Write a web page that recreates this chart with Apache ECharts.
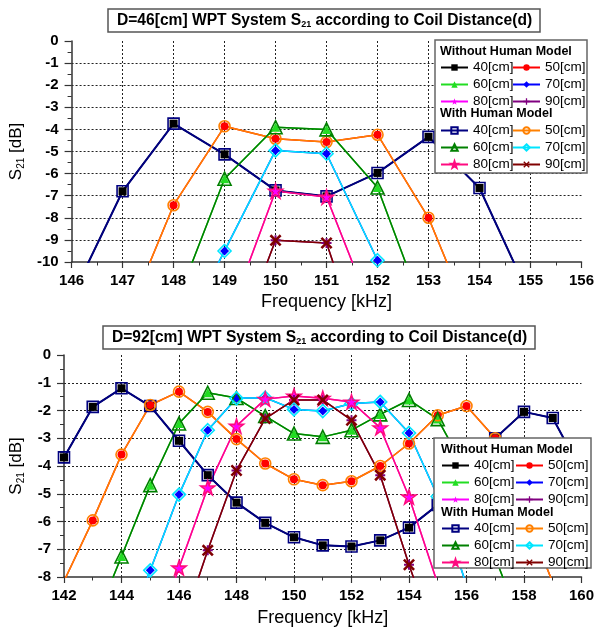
<!DOCTYPE html>
<html><head><meta charset="utf-8">
<script src="https://cdn.jsdelivr.net/npm/echarts@6/dist/echarts.min.js"></script>
<style>html,body{margin:0;padding:0;background:#fff}#c{width:597px;height:630px}</style>
</head><body><div id="c"></div>
<script>
// ---- D = 46 cm ----
const FREQ_46 = [146,147,148,149,150,151,152,153,154,155,156];
const D46_40 = [-11.6,-6.8,-3.74,-5.13,-6.76,-7.03,-5.97,-4.34,-6.65,-11.65,null];
const D46_50 = [null,-13.0,-7.43,-3.86,-4.42,-4.57,-4.24,-8.0,-13.6,null,null];
const D46_60 = [null,null,-12.2,-6.23,-3.9,-4.0,-6.63,-12.8,null,null,null];
const D46_70 = [null,null,-14.0,-9.5,-4.95,-5.1,-9.92,-15.0,null,null,null];
const D46_80 = [null,null,null,-13.0,-6.79,-7.06,-12.9,null,null,null,null];
const D46_90 = [null,null,null,-15.1,-9.02,-9.14,-16.0,null,null,null,null];
// ---- D = 92 cm ----
const FREQ_92 = [142,143,144,145,146,147,148,149,150,151,152,153,154,155,156,157,158,159,160];
const D92_40 = [-3.69,-1.87,-1.2,-1.84,-3.09,-4.33,-5.32,-6.05,-6.57,-6.86,-6.9,-6.68,-6.22,-5.4,-4.2,-3.0,-2.05,-2.27,-4.2];
const D92_50 = [-8.15,-5.96,-3.59,-1.8,-1.32,-2.05,-3.03,-3.91,-4.48,-4.69,-4.55,-4.0,-3.19,-2.17,-1.84,-3.0,-5.6,-8.2,null];
const D92_60 = [null,-9.8,-7.26,-4.69,-2.47,-1.36,-1.55,-2.2,-2.83,-2.95,-2.71,-2.14,-1.62,-2.31,-4.2,-7.3,-10.0,null,null];
const D92_70 = [null,null,-10.5,-7.76,-5.03,-2.71,-1.56,-1.54,-1.96,-2.02,-1.75,-1.69,-2.81,-5.1,-8.3,null,null,null,null];
const D92_80 = [null,null,null,-10.6,-7.67,-4.78,-2.56,-1.59,-1.48,-1.56,-1.69,-2.62,-5.11,-8.25,null,null,null,null,null];
const D92_90 = [null,null,null,null,-10.1,-7.04,-4.16,-2.29,-1.62,-1.62,-2.35,-4.33,-7.56,-10.5,null,null,null,null,null];

const X46_TICKS = {min:146, max:156, interval:1};
const Y46_TICKS = {min:-10, max:0, interval:1};
const X92_TICKS = {min:142, max:160, interval:2};
const Y92_TICKS = {min:-8, max:0, interval:1};

const DIST = ['40','50','60','70','80','90'];
const TITLES = ['D=46[cm] WPT System S{sub|21} according to Coil Distance(d)',
                'D=92[cm] WPT System S{sub|21} according to Coil Distance(d)'];
const HDR_WO = 'Without Human Model';
const HDR_W = 'With Human Model';

const FF = 'Liberation Sans, Arial, sans-serif';
const STAR = 'path://M50,0 L61.8,35.3 L98.9,35.3 L69,57.3 L80.3,92.7 L50,70.8 L19.7,92.7 L31,57.3 L1.1,35.3 L38.2,35.3 Z';
const PLUS = 'path://M40,0 H60 V40 H100 V60 H60 V100 H40 V60 H0 V40 H40 Z';
const XS = 'path://M15,0 L50,35 L85,0 L100,15 L65,50 L100,85 L85,100 L50,65 L15,100 L0,85 L35,50 L0,15 Z';
const WO_COLORS = ['#000000','#ff0000','#22dd22','#0000ff','#ff00ff','#800080'];
const W_COLORS = ['#000080','#ff8000','#008000','#00e5ff','#ff0a80','#800000'];
const WO_SYM = ['rect','circle','triangle','diamond',STAR,PLUS];
const W_SYM = ['rect','circle','triangle','diamond',STAR,XS];
const WO_SIZE = [8,8,9,9,11,10];
const W_SIZE = [11,11,13,13,14,12];

const sets = [
  {tag:'46', freq:FREQ_46, vals:[D46_40,D46_50,D46_60,D46_70,D46_80,D46_90]},
  {tag:'92', freq:FREQ_92, vals:[D92_40,D92_50,D92_60,D92_70,D92_80,D92_90]}
];
function pts(freq, v){ const out=[]; freq.forEach((f,i)=>{ if(v[i]!==null) out.push([f,v[i]]); }); return out; }

const series = [];
sets.forEach((s,k)=>{
  DIST.forEach((d,i)=>{
    series.push({type:'line', name:'wo'+s.tag+'_'+d, xAxisIndex:k, yAxisIndex:k,
      data:pts(s.freq, s.vals[i]), symbol:WO_SYM[i], symbolSize:WO_SIZE[i],
      itemStyle:{color:WO_COLORS[i]}, lineStyle:{color:WO_COLORS[i], width:1.5},
      clip:true, z:2, animation:false});
  });
});
sets.forEach((s,k)=>{
  DIST.forEach((d,i)=>{
    series.push({type:'line', name:'w'+s.tag+'_'+d, xAxisIndex:k, yAxisIndex:k,
      data:pts(s.freq, s.vals[i]), symbol:W_SYM[i], symbolSize:W_SIZE[i],
      itemStyle: i===5 ? {color:W_COLORS[i]} : {color:'transparent', borderColor:W_COLORS[i], borderWidth:1.6},
      lineStyle:{color:W_COLORS[i], width: i===0?2:1.5},
      clip:true, z:2, animation:false});
  });
});

function xAxis(t, k){
  return {type:'value', gridIndex:k, min:t.min, max:t.max, interval:t.interval,
    name:'Frequency [kHz]', nameLocation:'middle', nameGap: k===0?31:32,
    nameTextStyle:{fontSize:18, fontFamily:FF, color:'#000'},
    axisLine:{show:true, onZero:false, lineStyle:{color:'#333', width:1.5}},
    axisTick:{show:true, length:6, lineStyle:{color:'#333', width:1.2}},
    minorTick:{show:true, splitNumber:2, length:3.5, lineStyle:{color:'#333', width:1}},
    axisLabel:{fontSize:15, fontWeight:'bold', fontFamily:FF, color:'#000', margin:11},
    splitLine:{show:true, showMinLine:false, showMaxLine:false, lineStyle:{color:'#222', type:[2,2], width:1}}};
}
function yAxis(t, k){
  return {type:'value', gridIndex:k, min:t.min, max:t.max, interval:t.interval,
    name:'S{sub|21} [dB]', nameLocation:'middle', nameGap:38,
    nameTextStyle:{fontSize:17, fontFamily:FF, color:'#000', rich:{sub:{fontSize:10, fontFamily:FF, color:'#000', padding:[9,0,0,0]}}},
    axisLine:{show:true, onZero:false, lineStyle:{color:'#333', width:1.5}},
    axisTick:{show:true, length:7, lineStyle:{color:'#333', width:1.2}},
    minorTick:{show:true, splitNumber:2, length:4, lineStyle:{color:'#333', width:1}},
    axisLabel:{fontSize:15, fontWeight:'bold', fontFamily:FF, color:'#000', margin:13},
    splitLine:{show:true, showMinLine:false, showMaxLine:false, lineStyle:{color:'#222', type:[2,2], width:1}}};
}
function title(text, left, top){
  return {text:text, left:left, top:top, borderColor:'#555', borderWidth:1.5, padding:[4,8,3,9], backgroundColor:'#fff',
    textStyle:{fontSize:15.6, fontWeight:'bold', fontFamily:FF, color:'#000',
      rich:{sub:{fontSize:9, fontWeight:'bold', fontFamily:FF, color:'#000', padding:[8,0,0,0]}}}};
}
function legend(names, left, top){
  return {data:names, orient:'vertical', left:left, top:top, itemWidth:27, itemHeight:8, itemGap:3,
    selectedMode:false, padding:0, formatter:n=>n.split('_')[1]+'[cm]',
    textStyle:{fontSize:13.5, fontFamily:FF, color:'#000'}};
}
const L = [
  {box:[435,40,152,133], hx:440, h1:52, h2:114, c1:440, c2:512, r1:60.5, r2:123.5},
  {box:[434,438,157,130], hx:441, h1:450, h2:513, c1:441, c2:515, r1:458.5, r2:521.5}
];
const legends = [];
const graphics = [];
sets.forEach((s,k)=>{
  const l = L[k];
  legends.push(legend(['40','60','80'].map(d=>'wo'+s.tag+'_'+d), l.c1, l.r1));
  legends.push(legend(['50','70','90'].map(d=>'wo'+s.tag+'_'+d), l.c2, l.r1));
  legends.push(legend(['40','60','80'].map(d=>'w'+s.tag+'_'+d), l.c1, l.r2));
  legends.push(legend(['50','70','90'].map(d=>'w'+s.tag+'_'+d), l.c2, l.r2));
  graphics.push({type:'rect', z:3, shape:{x:l.box[0], y:l.box[1], width:l.box[2], height:l.box[3]},
    style:{fill:'#fff', stroke:'#666', lineWidth:1.5}});
  graphics.push({type:'text', z:5, x:l.hx, y:l.h1, style:{text:HDR_WO, font:'bold 12.5px '+FF, fill:'#000', verticalAlign:'middle'}});
  graphics.push({type:'text', z:5, x:l.hx, y:l.h2, style:{text:HDR_W, font:'bold 12.5px '+FF, fill:'#000', verticalAlign:'middle'}});
});

const option = {
  animation:false,
  backgroundColor:'#fff',
  title:[title(TITLES[0],108,8), title(TITLES[1],103,325)],
  grid:[{left:63, right:13, top:41, height:221, containLabel:false},
        {left:64, right:13, top:355, height:222, containLabel:false}],
  xAxis:[xAxis(X46_TICKS,0), xAxis(X92_TICKS,1)],
  yAxis:[yAxis(Y46_TICKS,0), yAxis(Y92_TICKS,1)],
  legend:legends,
  graphic:{elements:graphics},
  series:series
};
const chart = echarts.init(document.getElementById('c'), null, {renderer:'canvas'});
chart.setOption(option);
</script></body></html>
